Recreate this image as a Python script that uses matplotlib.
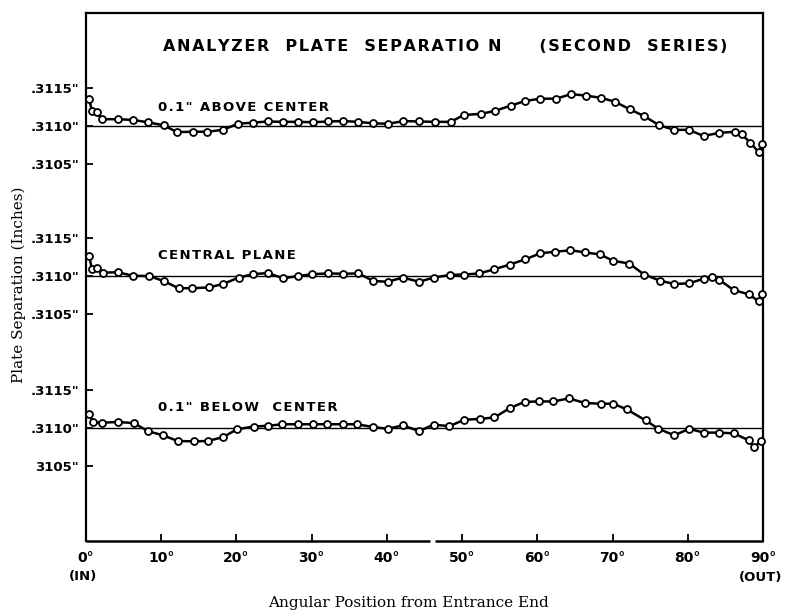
import matplotlib.pyplot as plt

# deviations from .3110" in units of 0.0001 inch
x_top = [0.4, 0.8, 1.4, 2.1, 4.3, 6.2, 8.2, 10.3, 12.1, 14.2, 16.1, 18.2, 20.2, 22.2, 24.2, 26.2,
         28.2, 30.2, 32.2, 34.2, 36.2, 38.2, 40.2, 42.2, 44.2, 46.4, 48.5, 50.2, 52.5, 54.4, 56.5,
         58.4, 60.4, 62.5, 64.5, 66.5, 68.5, 70.3, 72.3, 74.2, 76.2, 78.2, 80.1, 82.1, 84.2, 86.3,
         87.2, 88.3, 89.4, 89.9]
y_top = [3.55, 2.0, 1.8, 0.9, 0.9, 0.8, 0.5, 0.1, -0.8, -0.75, -0.75, -0.5, 0.3, 0.45, 0.6, 0.55,
         0.55, 0.5, 0.6, 0.65, 0.55, 0.35, 0.3, 0.65, 0.6, 0.55, 0.55, 1.45, 1.6, 2.0, 2.7, 3.3,
         3.6, 3.6, 4.2, 4.0, 3.7, 3.2, 2.2, 1.3, 0.1, -0.5, -0.5, -1.3, -0.9, -0.75, -1.1, -2.2,
         -3.4, -2.4]

x_mid = [0.4, 0.8, 1.4, 2.2, 4.2, 6.2, 8.4, 10.3, 12.3, 14.1, 16.3, 18.2, 20.3, 22.2, 24.2, 26.2,
         28.2, 30.1, 32.2, 34.2, 36.2, 38.2, 40.1, 42.1, 44.3, 46.2, 48.4, 50.3, 52.3, 54.3, 56.3,
         58.4, 60.4, 62.4, 64.4, 66.4, 68.3, 70.1, 72.2, 74.2, 76.3, 78.2, 80.2, 82.1, 83.2, 84.2,
         86.1, 88.1, 89.4, 89.9]
y_mid = [2.6, 0.9, 1.0, 0.45, 0.5, 0.05, 0.0, -0.65, -1.6, -1.6, -1.5, -1.05, -0.2, 0.25, 0.4, -0.3,
         0.0, 0.25, 0.35, 0.3, 0.35, -0.65, -0.75, -0.2, -0.75, -0.2, 0.15, 0.2, 0.35, 0.9, 1.5,
         2.2, 3.0, 3.2, 3.4, 3.1, 2.85, 2.0, 1.65, 0.2, -0.6, -1.05, -0.95, -0.35, -0.15, -0.5,
         -1.85, -2.4, -3.3, -2.3]

x_bot = [0.4, 0.9, 2.1, 4.2, 6.4, 8.2, 10.2, 12.2, 14.3, 16.2, 18.2, 20.1, 22.3, 24.2, 26.1, 28.2,
         30.2, 32.1, 34.2, 36.0, 38.1, 40.1, 42.1, 44.3, 46.2, 48.3, 50.3, 52.4, 54.3, 56.3, 58.3,
         60.2, 62.1, 64.2, 66.3, 68.4, 70.1, 71.9, 74.4, 76.1, 78.2, 80.2, 82.1, 84.2, 86.1, 88.1,
         88.8, 89.7]
y_bot = [1.9, 0.8, 0.7, 0.8, 0.65, -0.4, -0.95, -1.7, -1.75, -1.7, -1.2, -0.15, 0.2, 0.3, 0.5, 0.5,
         0.5, 0.5, 0.5, 0.5, 0.15, -0.1, 0.35, -0.4, 0.45, 0.25, 1.1, 1.2, 1.4, 2.6, 3.45, 3.5,
         3.5, 3.9, 3.3, 3.2, 3.2, 2.45, 1.0, -0.1, -0.95, -0.1, -0.6, -0.6, -0.7, -1.6, -2.5, -1.75]

labels = ['0.1" ABOVE CENTER', 'CENTRAL PLANE', '0.1" BELOW  CENTER']
title = 'ANALYZER  PLATE  SEPARATIO N     (SECOND  SERIES)'
x_ticks = [0, 10, 20, 30, 40, 50, 60, 70, 80, 90]
x_ticklabels = ['0°', '10°', '20°', '30°', '40°', '50°', '60°', '70°', '80°', '90°']
y_ticklabels = [['.3115"', '.3110"', '.3105"'],
                ['.3115"', '.3110"', '.3105"'],
                ['.3115"', '.3110"', '3105"']]

offsets = [0, -19.74, -39.74]   # where each .3110" line sits on the shared axis
lettering = dict(family='DejaVu Sans', fontweight='bold', color='black')


def spaced(s):
    # hand lettering is spread out; put hair spaces between the letters
    return '\u200a'.join(s)


fig = plt.figure(figsize=(7.85, 6.14), dpi=100)
ax = fig.add_axes([0.1096, 0.1189, 0.8624, 0.8599])
ax.set_xlim(0, 90)
ax.set_ylim(-54.6, 14.87)

series = [(x_top, y_top), (x_mid, y_mid), (x_bot, y_bot)]
label_y = [2.5, -17.1, -37.0]
for (xs, ys), off, lab, ly in zip(series, offsets, labels, label_y):
    ax.axhline(off, color='black', lw=1.0, zorder=1)
    ax.plot(xs, [v + off for v in ys], color='black', lw=1.8, marker='o', ms=5,
            mfc='white', mec='black', mew=1.3, zorder=3, clip_on=False)
    ax.text(9.6, ly, spaced(lab), va='center', fontsize=9.5, **lettering)

ax.text(47.8, 10.4, spaced(title), ha='center', va='center', fontsize=11.5, **lettering)

# y ticks: three .3115/.3110/.3105 groups
yt, yl = [], []
for off, tl in zip(offsets, y_ticklabels):
    yt += [off + 5, off, off - 5]
    yl += tl
ax.set_yticks(yt)
ax.set_yticklabels(yl, fontsize=9.5, fontweight='bold')
ax.set_xticks(x_ticks)
ax.set_xticklabels(x_ticklabels, fontsize=10, fontweight='bold')
ax.tick_params(direction='in', length=5, width=1.3, pad=5)
ax.tick_params(axis='x', pad=7)

# bottom axis line has a small break near 45-46 deg
ax.spines['bottom'].set_visible(False)
for seg in ([0, 45.7], [46.4, 90]):
    ax.plot(seg, [0, 0], color='black', lw=1.8, transform=ax.get_xaxis_transform(),
            clip_on=False, solid_capstyle='butt')
for s in ['left', 'right', 'top']:
    ax.spines[s].set_linewidth(1.6)

ax.text(-0.4, -0.068, '(IN)', transform=ax.get_xaxis_transform(), ha='center', va='center',
        fontsize=9.5, **lettering)
fig.text(0.996, 1 - 577 / 614, '(OUT)', ha='right', va='center', fontsize=9.5, **lettering)

fig.text(0.52, 0.018, 'Angular Position from Entrance End', ha='center', va='center',
         family='DejaVu Serif', fontsize=11)
fig.text(0.024, 0.536, 'Plate Separation (Inches)', ha='center', va='center', rotation=90,
         family='DejaVu Serif', fontsize=11)

fig.savefig('out.png', dpi=100)
